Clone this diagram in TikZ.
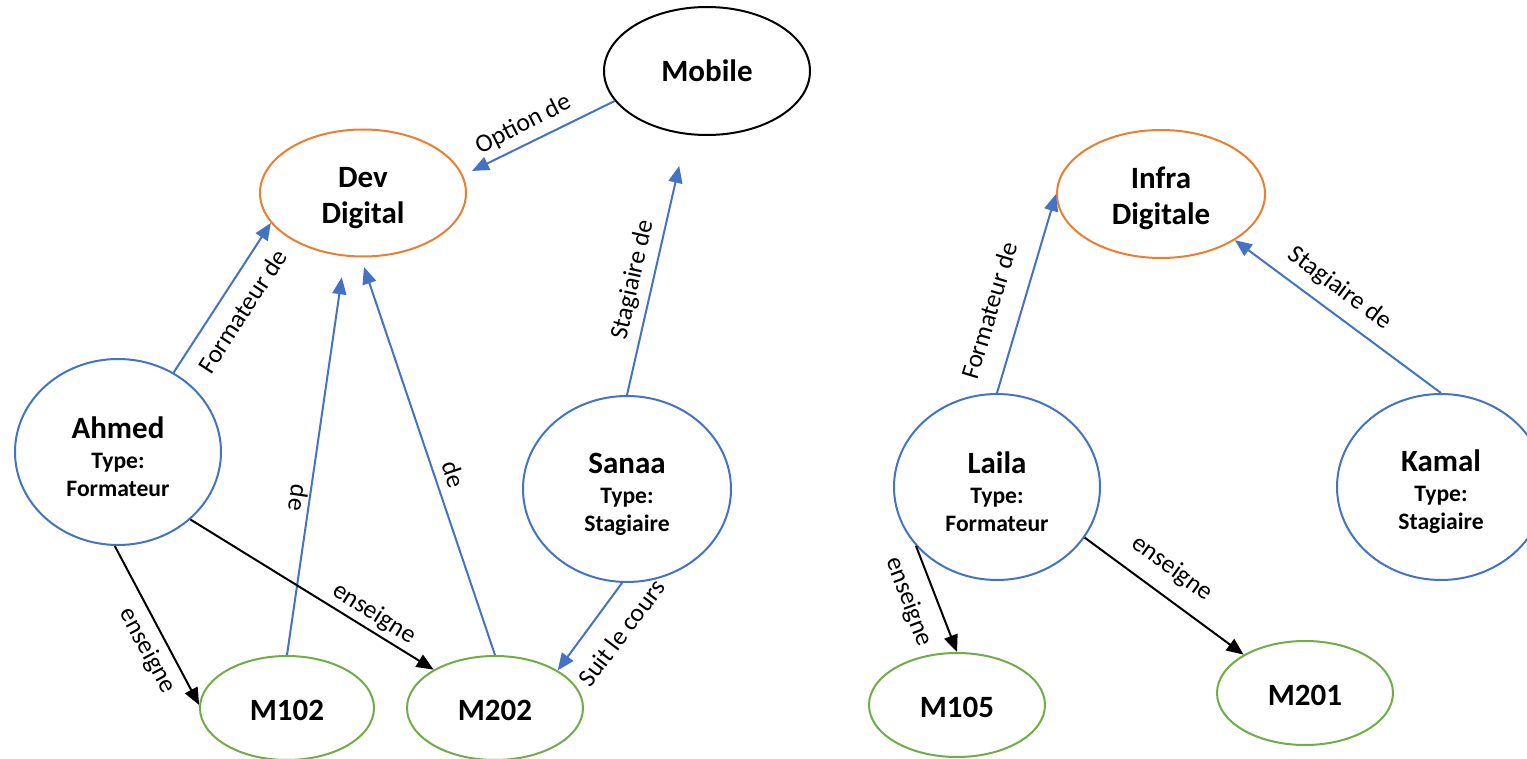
\documentclass[tikz,border=0pt]{standalone}
\usepackage{fontspec}
\setmainfont{Carlito}
\usetikzlibrary{shapes.geometric,arrows.meta}
\definecolor{linkblue}{HTML}{4472C4}
\definecolor{fieldorange}{HTML}{ED7D31}
\definecolor{modgreen}{HTML}{70AD47}
% name line of a person node, with a little extra room above it
\newcommand{\bigname}[1]{{\fontsize{15.5}{18}\selectfont\rule{0pt}{15.5pt}#1}}
% extra room above the first line of field and module nodes
\newcommand{\topgap}[1]{\rule{0pt}{#1}}
\tikzset{
  ent/.style={ellipse, draw, line width=1pt, inner sep=0pt, align=center,
    font=\bfseries\fontsize{11.8}{14}\selectfont},
  person/.style={ent, draw=linkblue},
  field/.style={ent, draw=fieldorange, font=\bfseries\fontsize{15.5}{18}\selectfont},
  course/.style={ent, draw=modgreen, font=\bfseries\fontsize{15.5}{18}\selectfont},
  track/.style={ent, draw=black, font=\bfseries\fontsize{15.5}{18}\selectfont},
  rel/.style={line width=1pt, draw=linkblue, -{Triangle[length=8.5pt,width=7pt]}},
  teach/.style={line width=1pt, draw=black, -{Triangle[length=8.5pt,width=7pt]}},
  lbl/.style={font=\fontsize{12.8}{15}\selectfont, inner sep=0pt,
    text height=8.5pt, text depth=2.5pt, text=black}
}
\begin{document}
\begin{tikzpicture}[x=0.5pt, y=-0.5pt]
\useasboundingbox (0,0) rectangle (1527,759);
\fill[white] (0,0) rectangle (1527,759);

% fields and option
\node[track, minimum width=103pt, minimum height=64pt] (mobile) at (707,71) {Mobile};
\node[field, minimum width=103pt, minimum height=63.5pt] (dev) at (363,193) {\topgap{15pt}Dev\\Digital};
\node[field, minimum width=104pt, minimum height=64pt] (infra) at (1161,194) {\topgap{15pt}Infra\\Digitale};

% people
\node[person, minimum width=103pt, minimum height=93pt] (ahmed) at (118,452)
  {\bigname{Ahmed}\\[1pt]Type:\\Formateur};
\node[person, minimum width=104pt, minimum height=93pt] (sanaa) at (627,489)
  {\bigname{Sanaa}\\[1pt]Type:\\Stagiaire};
\node[person, minimum width=103pt, minimum height=93pt] (laila) at (997,487)
  {\bigname{Laila}\\[1pt]Type:\\Formateur};
\node[person, minimum width=104pt, minimum height=93pt] (kamal) at (1441,487)
  {\bigname{Kamal}\\[1pt]Type:\\Stagiaire};

% modules
\node[course, minimum width=87pt, minimum height=52pt] (m102) at (287,708) {\topgap{13pt}M102};
\node[course, minimum width=88pt, minimum height=52pt] (m202) at (495,708) {\topgap{13pt}M202};
\node[course, minimum width=88pt, minimum height=52pt] (m105) at (957,705) {\topgap{13pt}M105};
\node[course, minimum width=88pt, minimum height=52pt] (m201) at (1305,693) {\topgap{13pt}M201};

% relations of the left group
\draw[rel, shorten >=5pt] (mobile.198) -- (dev.10)
  node[lbl, pos=.545, rotate=27, anchor=south, outer sep=3.6pt] {Option de};
\draw[rel] (ahmed.55) -- (dev.198)
  node[lbl, pos=.5, rotate=57, anchor=north, outer sep=8pt] {Formateur de};
\draw[rel, shorten >=10.5pt] (m102.north) -- (dev.254)
  node[lbl, pos=.39, rotate=-98, anchor=north, outer sep=1.5pt] {de};
\draw[rel, shorten >=5pt] (m202.north) -- (dev.268)
  node[lbl, pos=.44, rotate=-71.4, anchor=south, outer sep=2.5pt] {de};
\draw[rel, shorten >=16pt] (sanaa.north) -- (mobile.252)
  node[lbl, pos=.425, rotate=77.3, anchor=south, outer sep=4pt] {Stagiaire de};
\draw[rel] (sanaa.267) -- (m202.31)
  node[lbl, pos=.37, rotate=53, anchor=north, outer sep=10.4pt] {Suit le cours};
\draw[teach] (ahmed.268) -- (m102.178)
  node[lbl, pos=.6, rotate=-62, anchor=north, outer sep=5pt] {enseigne};
\draw[teach] (ahmed.-43) -- (m202.148)
  node[lbl, pos=.72, rotate=-32, anchor=south, outer sep=2.3pt] {enseigne};

% relations of the right group
\draw[rel] (laila.north) -- (infra.west)
  node[lbl, pos=.37, rotate=73.3, anchor=south, outer sep=8.5pt] {Formateur de};
\draw[rel] (kamal.north) -- (infra.-32)
  node[lbl, pos=.56, rotate=-36.8, anchor=south, outer sep=5.9pt] {Stagiaire de};
\draw[teach] (laila.216) -- (m105.north)
  node[lbl, pos=.44, rotate=-69.6, anchor=north, outer sep=8.2pt] {enseigne};
\draw[teach] (laila.-30) -- (m201.148)
  node[lbl, pos=.45, rotate=-36.3, anchor=south, outer sep=7.6pt] {enseigne};
\end{tikzpicture}
\end{document}
